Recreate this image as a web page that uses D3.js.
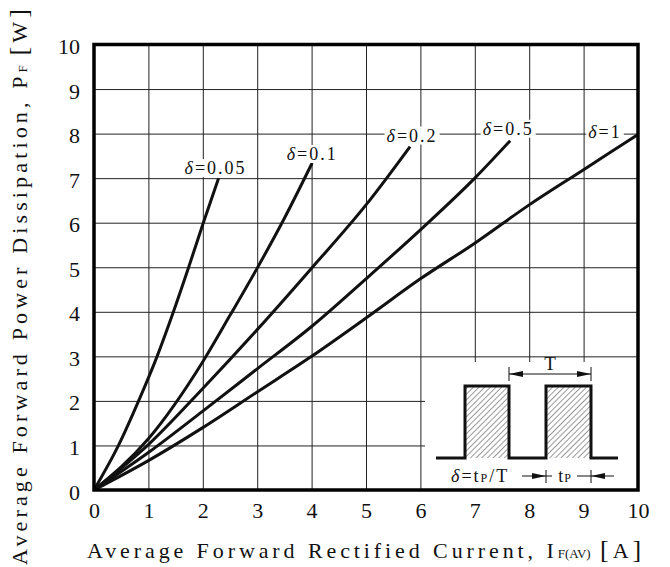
<!DOCTYPE html>
<meta charset="utf-8">
<head>
<script src="https://d3js.org/d3.v7.min.js"></script>
<style>
  body { margin: 0; background: #fff; }
  svg { display: block; }
  .tick text { font-family: "Liberation Serif", serif; font-size: 22px; fill: #111; }
  .title { font-family: "Liberation Serif", serif; font-size: 22px; fill: #111; }
  .dlabel { font-family: "Liberation Serif", serif; font-size: 18px; fill: #111; }
</style>
</head>
<body>
<svg id="chart" width="670" height="567"></svg>
<script>
// axis ticks
const xTicks = [0, 1, 2, 3, 4, 5, 6, 7, 8, 9, 10];
const yTicks = [0, 1, 2, 3, 4, 5, 6, 7, 8, 9, 10];

// duty cycles and curves (current A, power W)
const dutyLabels = ["δ=0.05", "δ=0.1", "δ=0.2", "δ=0.5", "δ=1"];
const current005 = [0, 0.45, 0.82, 1.16, 1.46, 1.74, 2.01, 2.29];
const power005   = [0, 1,    2,    3,    4,    5,    6,    7.0];
const current01  = [0, 1,    2,    2.5,  3,    3.5,  4.01];
const power01    = [0, 1.15, 2.88, 3.92, 4.98, 6.1,  7.34];
const current02  = [0, 1,    2,    3,   4,    5,   5.81];
const power02    = [0, 1.02, 2.28, 3.6, 4.98, 6.4, 7.71];
const current05  = [0, 1,    2,    3,    4,    5,    6,    7,   7.65];
const power05    = [0, 0.84, 1.77, 2.72, 3.67, 4.74, 5.84, 7.0, 7.84];
const current1   = [0, 1,    2,    3,    4,   5,    6,    7,    8,   9,    10];
const power1     = [0, 0.66, 1.4,  2.2,  3.0, 3.86, 4.74, 5.54, 6.4, 7.19, 7.98];

const seriesCurrent = [current005, current01, current02, current05, current1];
const seriesPower = [power005, power01, power02, power05, power1];

// label placement relative to curve end (px)
const labelShift = [[-3, -4], [0, -3], [2, -5], [-2, -6], [-33, 4]];

var svg = d3.select("#chart");
var pLeft = 94, pRight = 638, pTop = 44.5, pBottom = 490;

var x = d3.scaleLinear().domain([0, 10]).range([pLeft, pRight]);
var y = d3.scaleLinear().domain([0, 10]).range([pBottom, pTop]);

// grid + tick labels
var xAxis = svg.append("g")
  .attr("transform", "translate(0," + pBottom + ")")
  .call(d3.axisBottom(x).tickValues(xTicks).tickSize(-(pBottom - pTop)).tickPadding(12).tickFormat(d3.format("d")));
var yAxis = svg.append("g")
  .attr("transform", "translate(" + pLeft + ",0)")
  .call(d3.axisLeft(y).tickValues(yTicks).tickSize(-(pRight - pLeft)).tickPadding(14).tickFormat(d3.format("d")));
svg.selectAll(".domain").remove();
svg.selectAll(".tick line").attr("stroke", "#222").attr("stroke-width", 1);
yAxis.selectAll(".tick text").attr("dy", "0.41em");

// white area behind the inset
svg.append("rect")
  .attr("x", 425).attr("y", 362)
  .attr("width", pRight - 425).attr("height", pBottom - 362)
  .attr("fill", "#fff");

// curves
var line = d3.line()
  .x(d => x(d[0]))
  .y(d => y(d[1]))
  .curve(d3.curveMonotoneX);

seriesCurrent.forEach(function(cur, i) {
  var pts = cur.map((c, j) => [c, seriesPower[i][j]]);
  svg.append("path")
    .datum(pts)
    .attr("d", line)
    .attr("fill", "none")
    .attr("stroke", "#111")
    .attr("stroke-width", 3);
});

// curve labels with white backing
seriesCurrent.forEach(function(cur, i) {
  var n = cur.length - 1;
  var px = x(cur[n]) + labelShift[i][0];
  var py = y(seriesPower[i][n]) + labelShift[i][1];
  var g = svg.append("g");
  var bg = g.append("rect").attr("fill", "#fff");
  var t = g.append("text")
    .attr("class", "dlabel")
    .attr("x", px).attr("y", py)
    .attr("text-anchor", "middle")
    .style("letter-spacing", "2px");
  t.append("tspan").style("font-style", "italic").text(dutyLabels[i].slice(0, 1));
  t.append("tspan").text(dutyLabels[i].slice(1));
  var bb = t.node().getBBox();
  bg.attr("x", bb.x - 2).attr("y", bb.y + 1)
    .attr("width", bb.width + 4).attr("height", bb.height - 2);
});

// frame
svg.append("rect")
  .attr("x", pLeft).attr("y", pTop)
  .attr("width", pRight - pLeft).attr("height", pBottom - pTop)
  .attr("fill", "none")
  .attr("stroke", "#000")
  .attr("stroke-width", 3.5);

// inset: pulse train
var defs = svg.append("defs");
var pat = defs.append("pattern")
  .attr("id", "hatch")
  .attr("patternUnits", "userSpaceOnUse")
  .attr("width", 4).attr("height", 4)
  .attr("patternTransform", "rotate(45)");
pat.append("line")
  .attr("x1", 0).attr("y1", 0).attr("x2", 0).attr("y2", 4)
  .attr("stroke", "#555").attr("stroke-width", 1.2);

var base = 458, high = 386;
var pulses = [[465, 509], [546, 591]];
pulses.forEach(function(p) {
  svg.append("rect")
    .attr("x", p[0]).attr("y", high)
    .attr("width", p[1] - p[0]).attr("height", base - high)
    .attr("fill", "url(#hatch)");
});
svg.append("path")
  .attr("d", "M436," + base + "H465V" + high + "H509V" + base + "H546V" + high + "H591V" + base + "H618")
  .attr("fill", "none")
  .attr("stroke", "#111")
  .attr("stroke-width", 3);

function arrowHead(tipX, yy, dir) {
  svg.append("path")
    .attr("d", "M" + tipX + "," + yy + "L" + (tipX - dir * 14) + "," + (yy - 3) + "L" + (tipX - dir * 14) + "," + (yy + 3) + "Z")
    .attr("fill", "#111");
}
function vtick(xx, y1, y2) {
  svg.append("line").attr("x1", xx).attr("x2", xx).attr("y1", y1).attr("y2", y2)
    .attr("stroke", "#111").attr("stroke-width", 1);
}

// period T
var ty = 374;
svg.append("line").attr("x1", 509).attr("x2", 591).attr("y1", ty).attr("y2", ty)
  .attr("stroke", "#111").attr("stroke-width", 1);
vtick(509, 367, 381); vtick(591, 367, 381);
arrowHead(509, ty, -1); arrowHead(591, ty, 1);
svg.append("text").attr("class", "dlabel").attr("x", 550).attr("y", 370)
  .attr("text-anchor", "middle").style("font-size", "19px").text("T");

// pulse width tP
var wy = 476;
svg.append("line").attr("x1", 522).attr("x2", 614).attr("y1", wy).attr("y2", wy)
  .attr("stroke", "#111").attr("stroke-width", 1);
vtick(546, 470, 483); vtick(591, 470, 483);
arrowHead(546, wy, 1); arrowHead(591, wy, -1);
svg.append("rect").attr("x", 552).attr("y", 466).attr("width", 25).attr("height", 16).attr("fill", "#fff");
var tp = svg.append("text").attr("class", "dlabel").attr("x", 565).attr("y", 482)
  .attr("text-anchor", "middle").style("letter-spacing", "1px");
tp.append("tspan").text("t");
tp.append("tspan").style("font-size", "12px").text("P");

var dt = svg.append("text").attr("class", "dlabel").attr("x", 451).attr("y", 482)
  .style("letter-spacing", "2px");
dt.append("tspan").style("font-style", "italic").text("δ");
dt.append("tspan").text("=t");
dt.append("tspan").style("font-size", "12px").text("P");
dt.append("tspan").text("/T");

// axis titles: spread letters to the reference width, keep subscripts tight
function title(sel, parts, target) {
  var spans = parts.map(function(p) {
    var ts = sel.append("tspan").text(p[0]);
    if (p[1]) ts.style("font-size", p[1] + "px");
    if (p[2]) ts.style("letter-spacing", "0px");
    return ts;
  });
  var nat = sel.node().getComputedTextLength();
  var n = parts.filter(p => !p[2]).map(p => p[0]).join("").length;
  sel.style("letter-spacing", ((target - nat) / n) + "px");
}

var xt = svg.append("text").attr("class", "title").attr("x", 87).attr("y", 558);
title(xt, [["Average Forward Rectified Current, I"], ["F(AV)", 13, true], [" "], ["[", 26], ["A"], ["]", 26]], 558);

var yt = svg.append("text").attr("class", "title")
  .attr("transform", "translate(27,565) rotate(-90)");
title(yt, [["Average Forward Power Dissipation, P"], ["F", 13, true], [" "], ["[", 26], ["W"], ["]", 26]], 560);
</script>
</body>
